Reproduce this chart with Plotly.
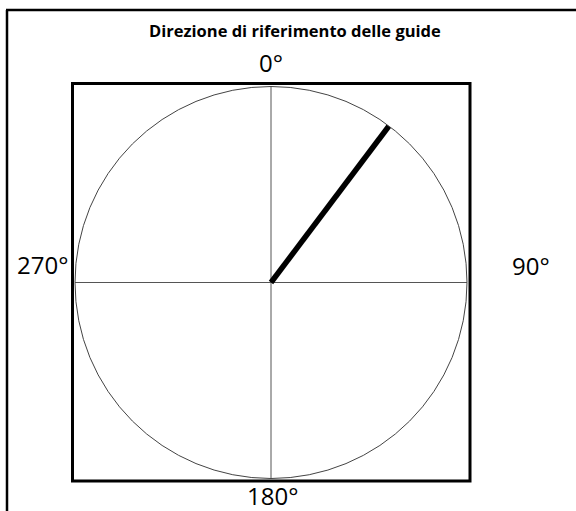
import plotly.graph_objects as go

# ---- data ----
guide_direction_deg = [37]          # reference direction of the guides
guide_radius = [0, 1]               # from centre to the circle
cardinal_angles = [0, 90, 180, 270]
cardinal_labels = ["0°", "90°", "180°", "270°"]
title_text = "Direzione di riferimento delle guide"

# ---- layout geometry (pixels) ----
W, H = 576, 511
cx, cy, R = 271, 282.5, 196

def px(x):
    return x / W

def py(y):
    return 1 - y / H

fig = go.Figure()

fig.add_trace(go.Scatterpolar(
    r=guide_radius,
    theta=[guide_direction_deg[0]] * len(guide_radius),
    mode="lines",
    line=dict(color="black", width=5.5),
    hoverinfo="skip",
    showlegend=False,
))

fig.update_layout(
    width=W, height=H,
    margin=dict(l=0, r=0, t=0, b=0),
    paper_bgcolor="white",
    plot_bgcolor="white",
    showlegend=False,
    polar=dict(
        domain=dict(x=[px(cx - R), px(cx + R)], y=[py(cy + R), py(cy - R)]),
        bgcolor="white",
        radialaxis=dict(visible=False, range=[0, 1], showgrid=False),
        angularaxis=dict(
            direction="clockwise", rotation=90,
            tickmode="array", tickvals=cardinal_angles,
            showticklabels=False, ticks="",
            showgrid=True, gridcolor="#555555", gridwidth=1,
            showline=True, linecolor="#444444", linewidth=1,
        ),
    ),
)

# square frame around the dial
fig.add_shape(type="rect", xref="paper", yref="paper",
              x0=px(72.5), x1=px(470), y0=py(481), y1=py(83.5),
              line=dict(color="black", width=3), fillcolor="rgba(0,0,0,0)",
              layer="above")

# outer border (top and left edges visible)
fig.add_shape(type="line", xref="paper", yref="paper",
              x0=px(6), x1=1.0, y0=py(10), y1=py(10),
              line=dict(color="black", width=2.5))
fig.add_shape(type="line", xref="paper", yref="paper",
              x0=px(7), x1=px(7), y0=py(10), y1=0,
              line=dict(color="black", width=2.5))

# title
fig.add_annotation(text="<b>" + title_text + "</b>", xref="paper", yref="paper",
                   x=px(295), y=py(30), xanchor="center", yanchor="middle",
                   showarrow=False,
                   font=dict(family="Open Sans", size=16.5, color="black"))

# cardinal labels
label_pos = {0: (271, 62), 90: (531, 265), 180: (272, 495), 270: (42, 264)}
for ang, lab in zip(cardinal_angles, cardinal_labels):
    x, y = label_pos[ang]
    fig.add_annotation(text=lab, xref="paper", yref="paper",
                       x=px(x), y=py(y), xanchor="center", yanchor="middle",
                       showarrow=False,
                       font=dict(family="Open Sans", size=24, color="black"))

fig.write_html("out.html",
               config={"displayModeBar": False},
               post_script="document.body.style.margin='0';"
                           "document.body.style.padding='0';")
